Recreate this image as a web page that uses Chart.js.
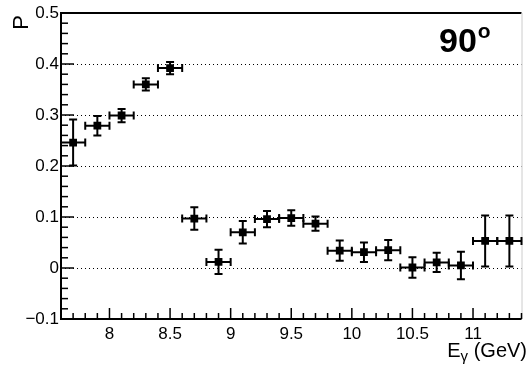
<!DOCTYPE html>
<html>
<head>
<meta charset="utf-8">
<script src="https://cdn.jsdelivr.net/npm/chart.js@4"></script>
<style>
  html, body { margin: 0; padding: 0; background: #fff; }
  #wrap { width: 527px; height: 368px; }
</style>
</head>
<body>
<div id="wrap"><canvas id="polChart" width="527" height="368"></canvas></div>
<script>
// -----------------------------
// Data
// -----------------------------
const energy = [7.7, 7.9, 8.1, 8.3, 8.5, 8.7, 8.9, 9.1, 9.3, 9.5, 9.7, 9.9, 10.1, 10.3, 10.5, 10.7, 10.9, 11.1, 11.3];
const energyErr = [0.1, 0.1, 0.1, 0.1, 0.1, 0.1, 0.1, 0.1, 0.1, 0.1, 0.1, 0.1, 0.1, 0.1, 0.1, 0.1, 0.1, 0.1, 0.1];
const pol = [0.246, 0.279, 0.299, 0.360, 0.392, 0.097, 0.012, 0.070, 0.096, 0.098, 0.087, 0.034, 0.031, 0.035, 0.001, 0.011, 0.005, 0.053, 0.053];
const polErr = [0.045, 0.019, 0.013, 0.012, 0.012, 0.022, 0.024, 0.022, 0.016, 0.015, 0.014, 0.020, 0.019, 0.020, 0.020, 0.019, 0.027, 0.050, 0.050];

const xTicks = [8, 8.5, 9, 9.5, 10, 10.5, 11];
const yTicks = [-0.1, 0, 0.1, 0.2, 0.3, 0.4, 0.5];
const yGrid = [0, 0.1, 0.2, 0.3, 0.4];

const FONT = "'Liberation Sans', Arial, sans-serif";

// -----------------------------
// ROOT-like frame, ticks, grid, error bars, labels
// -----------------------------
const rootStyle = {
  id: "rootStyle",
  beforeDatasetsDraw(chart) {
    const { ctx, chartArea: a, scales: { x, y } } = chart;
    ctx.save();
    // dotted grid
    ctx.strokeStyle = "#000";
    ctx.lineWidth = 1;
    ctx.setLineDash([1, 3]);
    yGrid.forEach(v => {
      const py = Math.round(y.getPixelForValue(v)) + 0.5;
      ctx.beginPath();
      ctx.moveTo(a.left, py);
      ctx.lineTo(a.right, py);
      ctx.stroke();
    });
    ctx.setLineDash([]);

    // frame
    ctx.lineWidth = 2;
    ctx.beginPath();
    ctx.moveTo(a.right, a.top);
    ctx.lineTo(a.left, a.top);
    ctx.lineTo(a.left, a.bottom);
    ctx.lineTo(a.right, a.bottom);
    ctx.stroke();
    ctx.lineWidth = 1;
    ctx.strokeStyle = "#ccc";
    ctx.beginPath();
    ctx.moveTo(a.right + 0.5, a.top);
    ctx.lineTo(a.right + 0.5, a.bottom);
    ctx.stroke();

    // ticks (inward)
    ctx.strokeStyle = "#000";
    ctx.lineWidth = 1.5;
    for (let i = 0; i <= 38; i++) {
      const v = 7.6 + i * 0.1;
      const px = x.getPixelForValue(v);
      const major = Math.abs(v * 2 - Math.round(v * 2)) < 1e-6;
      ctx.beginPath();
      ctx.moveTo(px, a.bottom);
      ctx.lineTo(px, a.bottom - (major ? 11 : 6));
      ctx.stroke();
    }
    for (let i = 0; i <= 30; i++) {
      const v = -0.1 + i * 0.02;
      const py = y.getPixelForValue(v);
      const major = i % 5 === 0;
      ctx.beginPath();
      ctx.moveTo(a.left, py);
      ctx.lineTo(a.left + (major ? 13 : 7), py);
      ctx.stroke();
    }
    ctx.restore();
  },
  afterDatasetsDraw(chart) {
    const { ctx, chartArea: a, scales: { x, y } } = chart;
    ctx.save();
    ctx.beginPath();
    ctx.rect(a.left, a.top, a.right - a.left + 2, a.bottom - a.top);
    ctx.clip();
    ctx.strokeStyle = "#000";
    ctx.lineWidth = 2;
    const cap = 4;
    energy.forEach((e, i) => {
      const px = x.getPixelForValue(e);
      const py = y.getPixelForValue(pol[i]);
      const x0 = x.getPixelForValue(e - energyErr[i]);
      const x1 = x.getPixelForValue(e + energyErr[i]);
      const y0 = y.getPixelForValue(pol[i] - polErr[i]);
      const y1 = y.getPixelForValue(pol[i] + polErr[i]);
      ctx.beginPath();
      ctx.moveTo(x0, py); ctx.lineTo(x1, py);
      ctx.moveTo(px, y0); ctx.lineTo(px, y1);
      ctx.moveTo(x0, py - cap); ctx.lineTo(x0, py + cap);
      ctx.moveTo(x1, py - cap); ctx.lineTo(x1, py + cap);
      ctx.moveTo(px - cap, y0); ctx.lineTo(px + cap, y0);
      ctx.moveTo(px - cap, y1); ctx.lineTo(px + cap, y1);
      ctx.stroke();
    });
    ctx.restore();

    // labels
    ctx.save();
    ctx.fillStyle = "#000";
    // y title
    ctx.translate(28, a.top + 2);
    ctx.rotate(-Math.PI / 2);
    ctx.font = "22px " + FONT;
    ctx.textAlign = "right";
    ctx.textBaseline = "alphabetic";
    ctx.fillText("P", 0, 0);
    ctx.restore();

    ctx.save();
    ctx.fillStyle = "#000";
    ctx.textBaseline = "alphabetic";
    ctx.textAlign = "right";
    ctx.font = "20px " + FONT;
    const base = 357;
    const tail = " (GeV)";
    ctx.fillText(tail, 527, base);
    let xr = 527 - ctx.measureText(tail).width;
    ctx.font = "15px " + FONT;
    ctx.fillText("\u03b3", xr, base + 4);
    xr -= ctx.measureText("\u03b3").width;
    ctx.font = "20px " + FONT;
    ctx.fillText("E", xr, base);

    // angle label
    ctx.textAlign = "left";
    ctx.font = "bold 34px " + FONT;
    ctx.fillText("90", 439, 52);
    const w = ctx.measureText("90").width;
    ctx.font = "bold 21px " + FONT;
    ctx.fillText("o", 439 + w + 1, 38);
    ctx.restore();
  }
};

// -----------------------------
// Chart
// -----------------------------
const ctx = document.getElementById("polChart").getContext("2d");

new Chart(ctx, {
  type: "scatter",
  data: {
    datasets: [{
      label: "P",
      data: energy.map((e, i) => ({ x: e, y: pol[i] })),
      pointStyle: "rect",
      pointRadius: 5.5,
      pointBackgroundColor: "#000",
      pointBorderColor: "#000",
      pointBorderWidth: 0,
      showLine: false
    }]
  },
  options: {
    responsive: false,
    animation: false,
    layout: { padding: { top: 13, right: 2, left: 0, bottom: 0 } },
    plugins: {
      legend: { display: false },
      tooltip: { enabled: false }
    },
    scales: {
      x: {
        type: "linear",
        min: 7.6,
        max: 11.4,
        grid: { display: false, drawTicks: false },
        border: { display: false },
        afterBuildTicks: s => { s.ticks = xTicks.map(v => ({ value: v })); },
        afterFit: s => { s.height = 49; },
        ticks: {
          padding: 5,
          maxRotation: 0,
          autoSkip: false,
          color: "#000",
          font: { family: FONT, size: 17 },
          callback: v => String(v)
        }
      },
      y: {
        type: "linear",
        min: -0.1,
        max: 0.5,
        grid: { display: false, drawTicks: false },
        border: { display: false },
        afterBuildTicks: s => { s.ticks = yTicks.map(v => ({ value: v })); },
        afterFit: s => { s.width = 61; },
        ticks: {
          padding: 2,
          autoSkip: false,
          color: "#000",
          font: { family: FONT, size: 17 },
          callback: v => (Math.abs(v) < 1e-9 ? "0" : (v < 0 ? "\u2212" + Math.abs(v).toFixed(1) : v.toFixed(1)))
        }
      }
    }
  },
  plugins: [rootStyle]
});
</script>
</body>
</html>
